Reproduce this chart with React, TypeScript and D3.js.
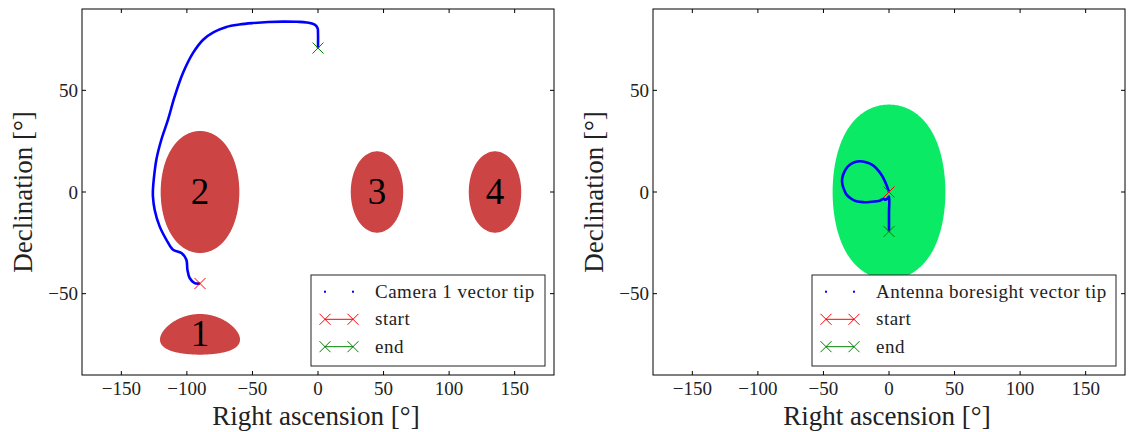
import * as d3 from "d3";

// axis ticks (degrees)
const raTicks = [-150, -100, -50, 0, 50, 100, 150];
const decTicks = [-50, 0, 50];

// left panel: keep-out zones (centre RA, centre Dec, angular radius)
const zoneLabels = ["1", "2", "3", "4"];
const zoneRA = [-90, -90, 45, 135];
const zoneDec = [-70, 0, 0, 0];
const zoneRadius = [10, 30, 20, 20];

// left panel: camera 1 vector tip, start -> end
const camRA = [
  -90, -94.1, -97.9, -99.6, -100.4, -104.2, -110.6, -115.6, -120.8, -124.6, -125.9, -125.9,
  -125.3, -123.3, -119.5, -114.4, -109.3, -103, -95.3, -87.6, -79.5, -69.9, -60, -49.6,
  -38, -26.7, -16, -8.8, -2.5, -0.3, 0, 0,
];
const camDec = [
  -45, -44.8, -42.3, -38.2, -33.3, -30, -28.4, -23.5, -16.9, -8.7, -2.2, 1.1,
  6, 15.9, 25.7, 35.6, 47, 58.5, 68.4, 74.9, 78.6, 81.2, 82.4, 83.1,
  83.6, 83.8, 83.7, 83.4, 82.3, 80.5, 78, 70.8,
];

// right panel: antenna zone and boresight vector tip
const antZoneRA = [0];
const antZoneDec = [0];
const antZoneRadius = [43];

const antRA = [
  0, -2, -5.8, -12.2, -17.5, -22.3, -26.5, -29.9, -33, -35, -35.8, -35.5, -34.2, -32.4, -28.8,
  -24.8, -19.5, -14.7, -10.5, -7.1, -4, -2.8, -1.2, 0, 0, 0,
];
const antDec = [
  0, 3.6, 8.5, 13.1, 14.6, 15.1, 14.6, 13.4, 11.2, 8.5, 6, 3.6, 1.1, -1.3, -3.3,
  -4.6, -5, -4.9, -4.6, -4.3, -3.3, -3.8, -3.2, -2.2, -10, -19.4,
];

const FONT = "'Liberation Serif', 'Times New Roman', serif";
const RED_ZONE = "#cc4444";
const GREEN_ZONE = "#0aea65";

type Zone = { label?: string; ra: number; dec: number; r: number; color: string };

function XMark({ cx, cy, color }: { cx: number; cy: number; color: string }) {
  const s = 5.5;
  return (
    <path
      d={`M${cx - s},${cy - s}L${cx + s},${cy + s}M${cx - s},${cy + s}L${cx + s},${cy - s}`}
      stroke={color}
      strokeWidth={1}
      fill="none"
    />
  );
}

function Panel({
  left,
  zones,
  ra,
  dec,
  legendLabel,
  legendWidth,
}: {
  left: number;
  zones: Zone[];
  ra: number[];
  dec: number[];
  legendLabel: string;
  legendWidth: number;
}) {
  const top = 9;
  const w = 472;
  const h = 366;
  const x = d3.scaleLinear().domain([-180, 180]).range([left, left + w]);
  const y = d3.scaleLinear().domain([-90, 90]).range([top + h, top]);

  const pts: [number, number][] = ra.map((r, i) => [r, dec[i]]);
  const line = d3
    .line<[number, number]>()
    .x((d) => x(d[0]))
    .y((d) => y(d[1]))
    .curve(d3.curveCatmullRom);
  const ring = d3
    .line<number[]>()
    .x((d) => x(d[0]))
    .y((d) => y(d[1]));

  const start = pts[0];
  const end = pts[pts.length - 1];

  const lx = left + w - 9 - legendWidth;
  const ly = top + h - 9 - 91;
  const rows = [16.7, 44.3, 71.7];

  return (
    <g fontFamily={FONT}>
      {zones.map((z, i) => {
        const poly = d3.geoCircle().center([z.ra, z.dec]).radius(z.r).precision(1)();
        return (
          <g key={i}>
            <path d={ring(poly.coordinates[0]) + "Z"} fill={z.color} stroke="none" />
            {z.label && (
              <text x={x(z.ra)} y={y(z.dec) + 12} fontSize={37} textAnchor="middle" fill="#000">
                {z.label}
              </text>
            )}
          </g>
        );
      })}

      <path d={line(pts) || ""} fill="none" stroke="#0000ff" strokeWidth={2.6} strokeLinejoin="round" />
      <XMark cx={x(start[0])} cy={y(start[1])} color="#ff0000" />
      <XMark cx={x(end[0])} cy={y(end[1])} color="#008000" />

      {/* frame and ticks */}
      <rect x={left} y={top} width={w} height={h} fill="none" stroke="#000" strokeWidth={1} />
      {raTicks.map((t) => (
        <g key={"x" + t}>
          <line x1={x(t)} x2={x(t)} y1={top + h} y2={top + h - 4} stroke="#000" />
          <line x1={x(t)} x2={x(t)} y1={top} y2={top + 4} stroke="#000" />
          <text x={x(t)} y={top + h + 20} fontSize={19} textAnchor="middle" fill="#222">
            {t < 0 ? "\u2212" + Math.abs(t) : t}
          </text>
        </g>
      ))}
      {decTicks.map((t) => (
        <g key={"y" + t}>
          <line x1={left} x2={left + 4} y1={y(t)} y2={y(t)} stroke="#000" />
          <line x1={left + w} x2={left + w - 4} y1={y(t)} y2={y(t)} stroke="#000" />
          <text x={left - 4} y={y(t) + 6.5} fontSize={19} textAnchor="end" fill="#222">
            {t < 0 ? "\u2212" + Math.abs(t) : t}
          </text>
        </g>
      ))}

      <text x={x(0) - 2} y={425} fontSize={27} textAnchor="middle" fill="#222">
        Right ascension [°]
      </text>
      <text
        transform={`translate(${left - 50},${y(0)}) rotate(-90)`}
        fontSize={27}
        textAnchor="middle"
        fill="#222"
      >
        Declination [°]
      </text>

      {/* legend */}
      <rect x={lx} y={ly} width={legendWidth} height={91} fill="#fff" stroke="#222" strokeWidth={1} />
      <rect x={lx + 13} y={ly + rows[0] - 1} width={2} height={2} fill="#0000ff" />
      <rect x={lx + 41} y={ly + rows[0] - 1} width={2} height={2} fill="#0000ff" />
      <line x1={lx + 14} x2={lx + 42} y1={ly + rows[1]} y2={ly + rows[1]} stroke="#ff0000" />
      <XMark cx={lx + 14} cy={ly + rows[1]} color="#ff0000" />
      <XMark cx={lx + 42} cy={ly + rows[1]} color="#ff0000" />
      <line x1={lx + 14} x2={lx + 42} y1={ly + rows[2]} y2={ly + rows[2]} stroke="#008000" />
      <XMark cx={lx + 14} cy={ly + rows[2]} color="#008000" />
      <XMark cx={lx + 42} cy={ly + rows[2]} color="#008000" />
      {[legendLabel, "start", "end"].map((s, i) => (
        <text key={s} x={lx + 64} y={ly + rows[i] + 6} fontSize={19} letterSpacing={0.5} fill="#222">
          {s}
        </text>
      ))}
    </g>
  );
}

export default function App() {
  const leftZones: Zone[] = zoneLabels.map((l, i) => ({
    label: l,
    ra: zoneRA[i],
    dec: zoneDec[i],
    r: zoneRadius[i],
    color: RED_ZONE,
  }));
  const rightZones: Zone[] = antZoneRA.map((r, i) => ({
    ra: r,
    dec: antZoneDec[i],
    r: antZoneRadius[i],
    color: GREEN_ZONE,
  }));
  return (
    <svg
      width={1128}
      height={432}
      style={{ position: "absolute", left: 0, top: 0, background: "#fff" }}
    >
      <Panel left={82} zones={leftZones} ra={camRA} dec={camDec} legendLabel="Camera 1 vector tip" legendWidth={234} />
      <Panel
        left={653}
        zones={rightZones}
        ra={antRA}
        dec={antDec}
        legendLabel="Antenna boresight vector tip"
        legendWidth={304}
      />
    </svg>
  );
}
